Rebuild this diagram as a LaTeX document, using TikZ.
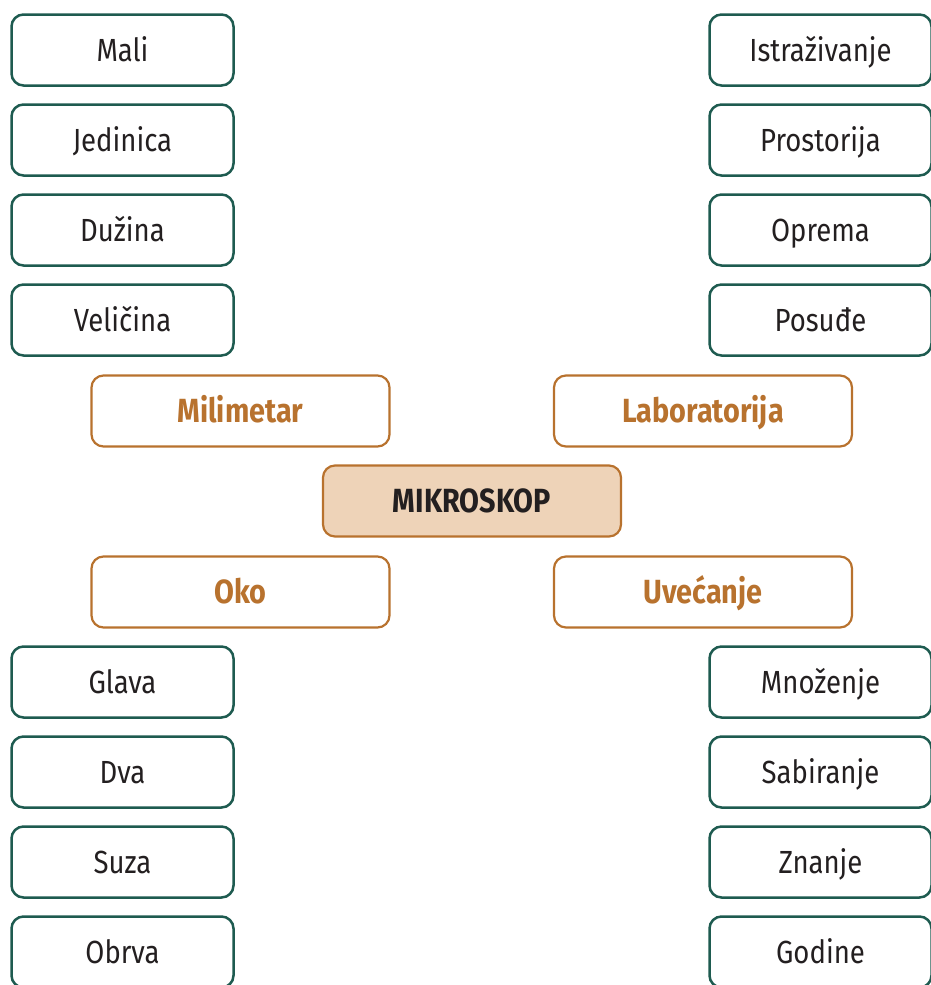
\documentclass[tikz,border=0pt]{standalone}
\usepackage{fontspec}
\setmainfont[FakeStretch=0.86]{Fira Sans}
\definecolor{tealline}{HTML}{1E5B50}
\definecolor{ochre}{HTML}{B8722E}
\definecolor{sand}{HTML}{EED3B8}
\definecolor{ink}{HTML}{231F20}
\tikzset{
  leaf/.style={draw=tealline, line width=2.5pt, rounded corners=12pt, fill=white,
    minimum width=222pt, minimum height=71pt, inner sep=0pt,
    text height=22pt, text depth=0pt,
    font=\fontsize{32}{36}\selectfont, text=ink},
  branch/.style={draw=ochre, line width=2.2pt, rounded corners=12pt, fill=white,
    minimum width=298pt, minimum height=71pt, inner sep=0pt,
    text height=23pt, text depth=0pt,
    font=\fontsize{33.5}{38}\selectfont\bfseries, text=ochre},
  hub/.style={branch, fill=sand, text=ink}
}
\begin{document}
\begin{tikzpicture}[x=1pt,y=-1pt]
\useasboundingbox (0,0) rectangle (930,985);
% left column
\node[leaf] (mali) at (122.5,50) {Mali};
\node[leaf] (jedinica) at (122.5,140) {Jedinica};
\node[leaf] (duzina) at (122.5,230) {Dužina};
\node[leaf] (velicina) at (122.5,320) {Veličina};
\node[leaf] (glava) at (122.5,682) {Glava};
\node[leaf] (dva) at (122.5,772) {Dva};
\node[leaf] (suza) at (122.5,862) {Suza};
\node[leaf] (obrva) at (122.5,952) {Obrva};
% right column
\node[leaf] (istr) at (820.5,50) {Istraživanje};
\node[leaf] (prost) at (820.5,140) {Prostorija};
\node[leaf] (oprema) at (820.5,230) {Oprema};
\node[leaf] (posude) at (820.5,320) {Posuđe};
\node[leaf] (mnoz) at (820.5,682) {Množenje};
\node[leaf] (sab) at (820.5,772) {Sabiranje};
\node[leaf] (znanje) at (820.5,862) {Znanje};
\node[leaf] (godine) at (820.5,952) {Godine};
% branches and hub
\node[branch] (mili) at (240.5,411) {Milimetar};
\node[branch] (lab) at (703,411) {Laboratorija};
\node[branch] (oko) at (240.5,592) {Oko};
\node[branch] (uvec) at (703,592) {Uvećanje};
\node[hub] (mikro) at (472,501) {MIKROSKOP};
\end{tikzpicture}
\end{document}
